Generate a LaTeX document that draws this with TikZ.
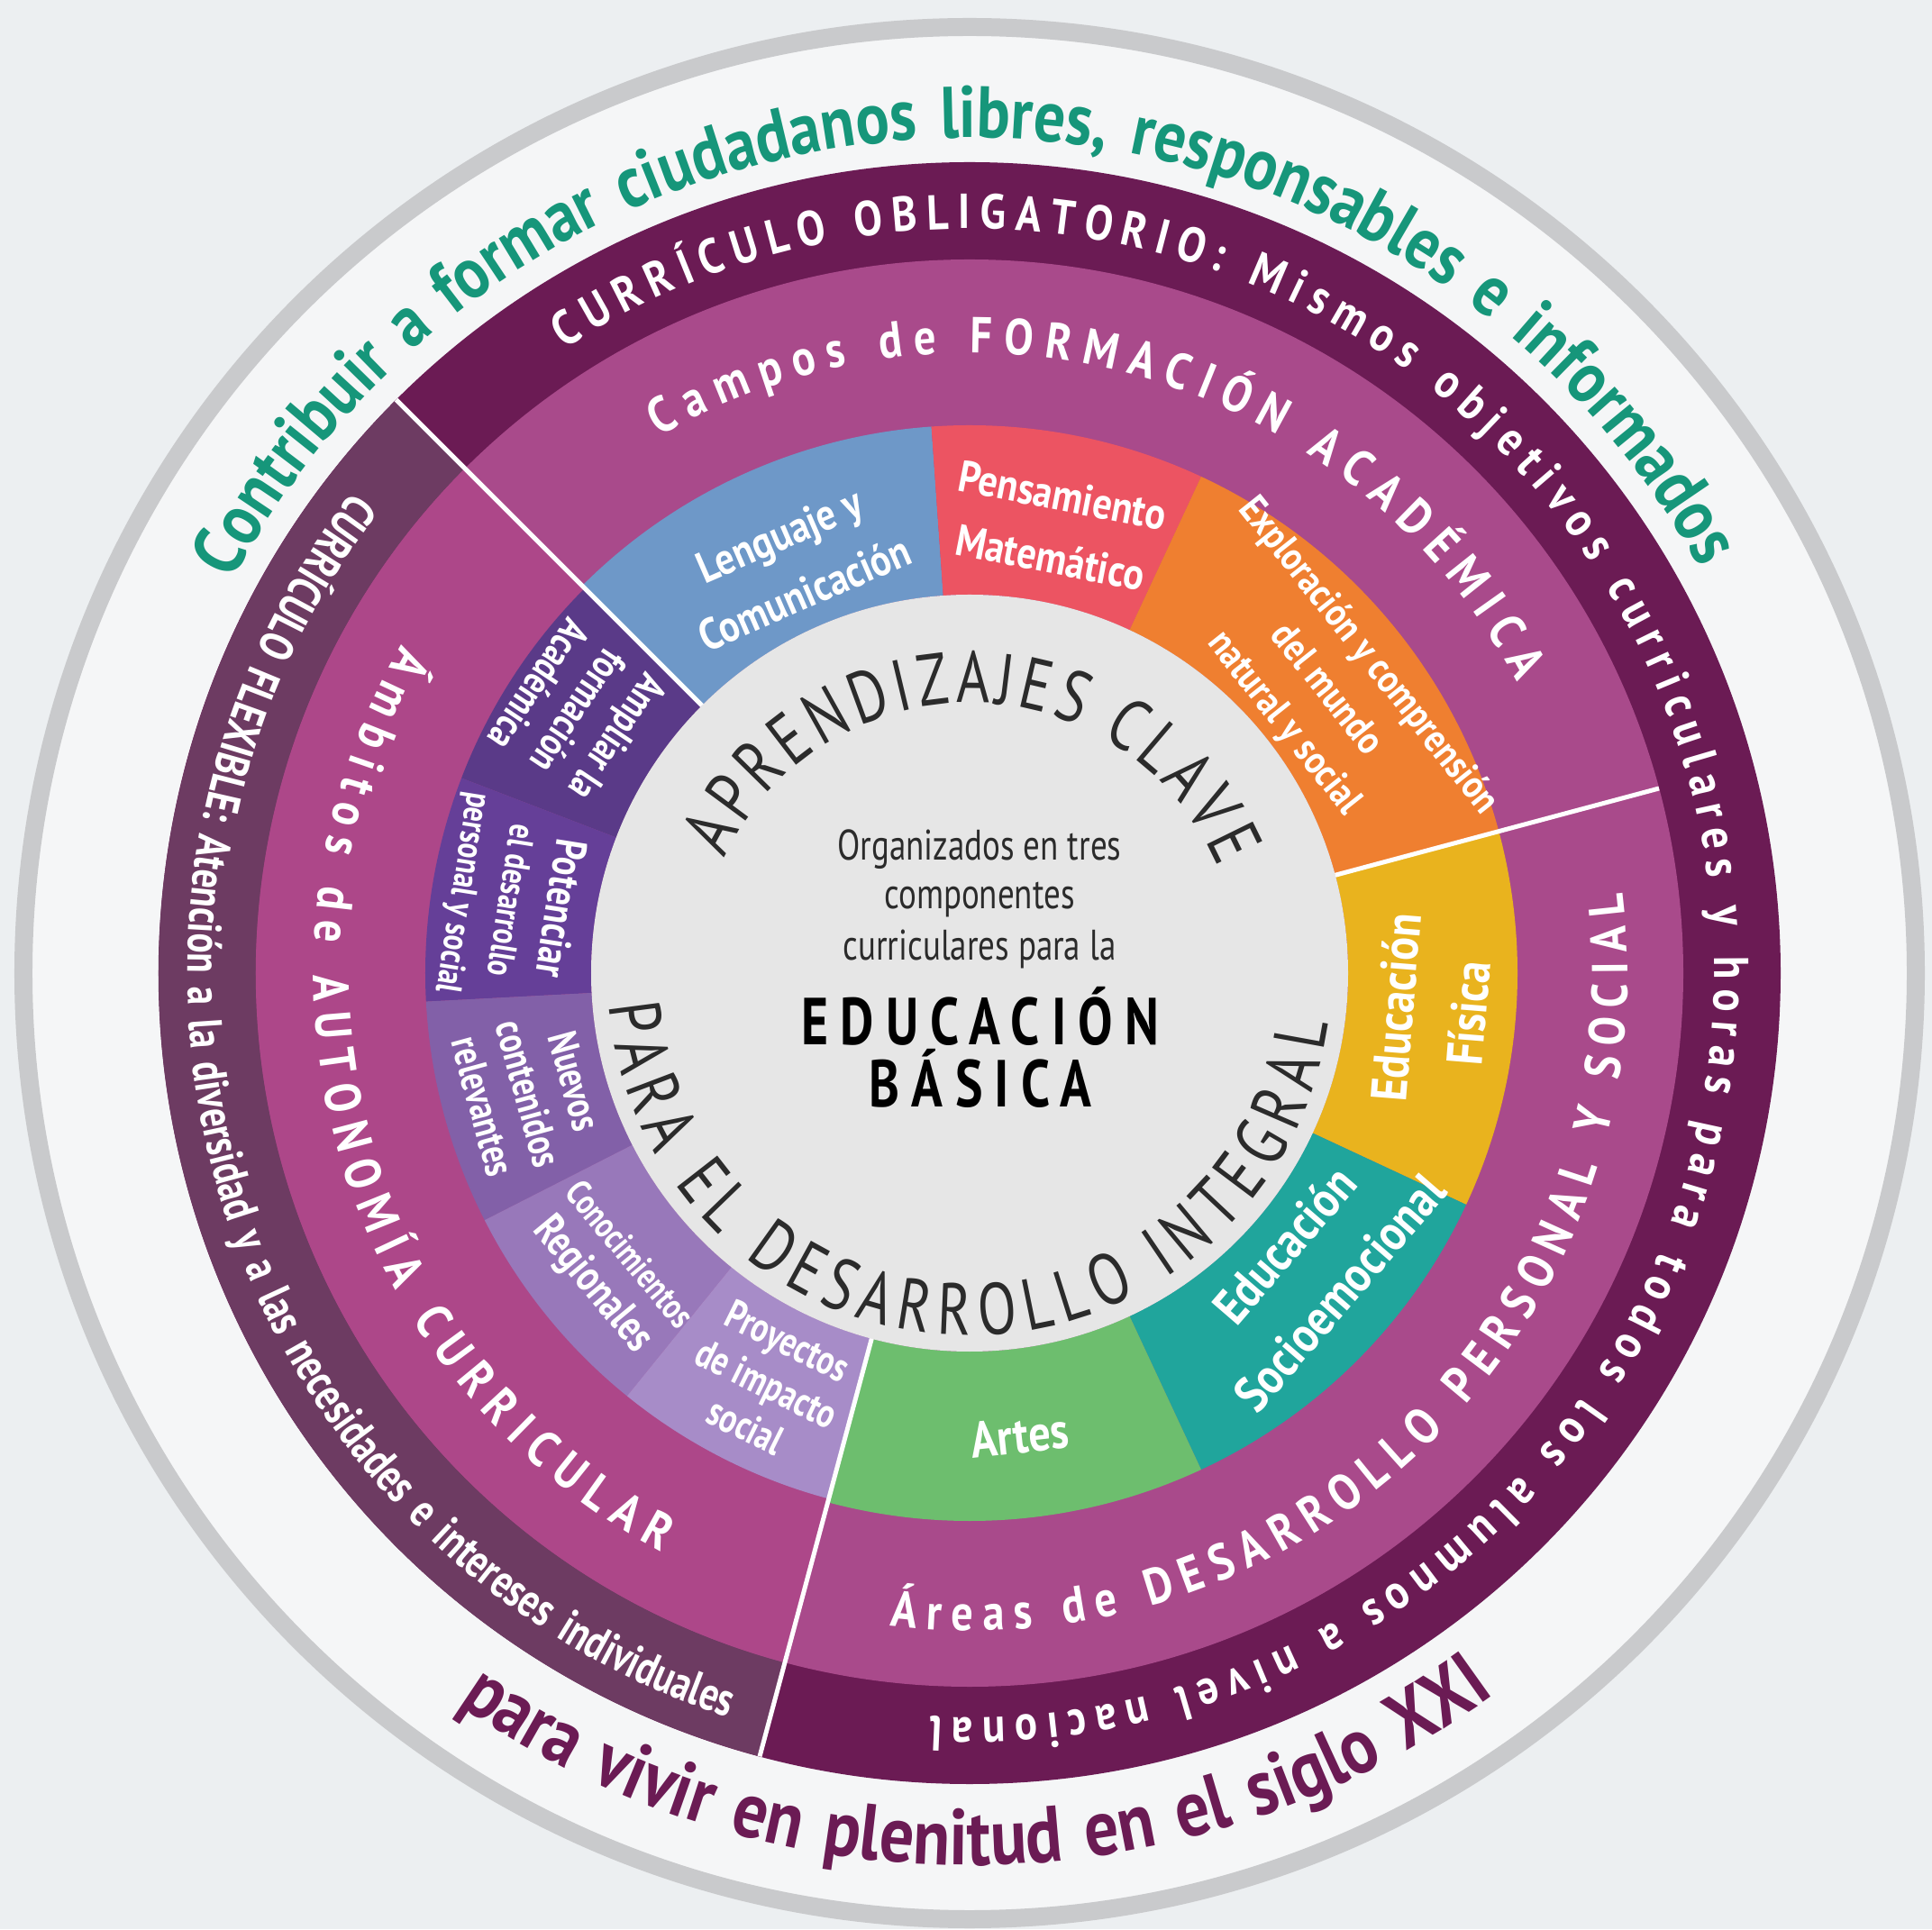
\documentclass[tikz,border=0pt]{standalone}
\usepackage{fontspec}
\setmainfont{PT Sans}
\newfontfamily\condfont[FakeStretch=0.86]{PT Sans}
\newfontfamily\narrowfont[FakeStretch=0.78]{PT Sans}
\usetikzlibrary{decorations.text}

\newlength{\du}
\setlength{\du}{0.1mm}

\definecolor{bgcolor}{rgb}{0.925000, 0.937000, 0.945000}
\definecolor{ringfill}{rgb}{0.961000, 0.965000, 0.969000}
\definecolor{ringline}{rgb}{0.788000, 0.792000, 0.800000}
\definecolor{obligcolor}{rgb}{0.420000, 0.106000, 0.329000}
\definecolor{flexcolor}{rgb}{0.427000, 0.231000, 0.384000}
\definecolor{camposcolor}{rgb}{0.663000, 0.290000, 0.545000}
\definecolor{ambitoscolor}{rgb}{0.678000, 0.278000, 0.537000}
\definecolor{lenguajecolor}{rgb}{0.431000, 0.596000, 0.784000}
\definecolor{pensamientocolor}{rgb}{0.925000, 0.329000, 0.384000}
\definecolor{exploracolor}{rgb}{0.937000, 0.498000, 0.188000}
\definecolor{fisicacolor}{rgb}{0.914000, 0.702000, 0.118000}
\definecolor{socioemocolor}{rgb}{0.125000, 0.647000, 0.612000}
\definecolor{artescolor}{rgb}{0.427000, 0.745000, 0.431000}
\definecolor{ampliarcolor}{rgb}{0.353000, 0.227000, 0.533000}
\definecolor{potenciarcolor}{rgb}{0.396000, 0.247000, 0.596000}
\definecolor{nuevoscolor}{rgb}{0.510000, 0.376000, 0.659000}
\definecolor{conocimcolor}{rgb}{0.596000, 0.471000, 0.729000}
\definecolor{proyectoscolor}{rgb}{0.655000, 0.549000, 0.784000}
\definecolor{innergrey}{rgb}{0.902000, 0.902000, 0.902000}
\definecolor{textgreen}{rgb}{0.086000, 0.588000, 0.478000}
\definecolor{darktext}{rgb}{0.169000, 0.169000, 0.169000}

% one piece of a ring: colour, inner r, outer r, from, to
\newcommand{\ringpart}[5]{%
  \fill[#1] (#4:#2\du) arc[start angle=#4, end angle=#5, radius=#2\du]
    -- (#5:#3\du) arc[start angle=#5, end angle=#4, radius=#3\du] -- cycle;}
% text on an arc: radius, from, to, alignment, format, text
\newcommand{\arctext}[6]{%
  \path[decorate, decoration={text along path, text align={#4}, text={|#5|#6}}]
    (#2:#1\du) arc[start angle=#2, end angle=#3, radius=#1\du];}

\newcommand{\greenfont}{\condfont\bfseries\fontsize{23pt}{27pt}\selectfont\color{textgreen}}
\newcommand{\plumfont}{\condfont\bfseries\fontsize{25pt}{29pt}\selectfont\color{obligcolor}}
\newcommand{\bandfont}{\condfont\bfseries\fontsize{15.5pt}{18pt}\selectfont\color{white}}
\newcommand{\flexfont}{\narrowfont\bfseries\fontsize{15pt}{18pt}\selectfont\color{white}}
\newcommand{\ringfont}{\condfont\bfseries\fontsize{16pt}{19pt}\selectfont\color{white}}
\newcommand{\innerfont}{\narrowfont\fontsize{23pt}{27pt}\selectfont\color{darktext}}

\tikzset{
  seglabel/.style={text=white, align=center, inner sep=0pt,
    font=\condfont\bfseries\fontsize{14pt}{20pt}\selectfont},
  biglabel/.style={seglabel, font=\condfont\bfseries\fontsize{16pt}{23pt}\selectfont},
  purplelabel/.style={text=white, align=center, inner sep=0pt,
    font=\narrowfont\bfseries\fontsize{13pt}{15pt}\selectfont},
  midtext/.style={text=darktext, inner sep=0pt, font=\narrowfont\fontsize{13.5pt}{16pt}\selectfont},
  bigtext/.style={text=black, inner sep=0pt,
    font=\narrowfont\bfseries\fontsize{21pt}{25pt}\selectfont\addfontfeature{LetterSpace=18}},
  divider/.style={white, line width=5\du},
}

\begin{document}
\begin{tikzpicture}
\useasboundingbox (-1076\du,-1061\du) rectangle (1068\du,1080\du);
\fill[bgcolor] (-1076\du,-1061\du) rectangle (1068\du,1080\du);

% outer ring
\fill[ringfill] (0,0) circle[radius=1045\du];
\draw[ringline, line width=20\du] (0,0) circle[radius=1050\du];

% curriculo bands
\fill[obligcolor] (0,0) circle[radius=900\du];
\ringpart{flexcolor}{792}{900}{135}{255}
\fill[camposcolor] (0,0) circle[radius=792\du];
\ringpart{ambitoscolor}{600}{792}{135}{255}

% campos de formacion
\ringpart{lenguajecolor}{420}{608}{94}{135}
\ringpart{pensamientocolor}{420}{608}{65}{94}
\ringpart{exploracolor}{420}{608}{15}{65}
% areas de desarrollo
\ringpart{fisicacolor}{420}{608}{-25}{15}
\ringpart{socioemocolor}{420}{608}{-65}{-25}
\ringpart{artescolor}{420}{608}{-105}{-65}
% ambitos de autonomia
\ringpart{ampliarcolor}{420}{604}{135}{159}
\ringpart{potenciarcolor}{420}{604}{159}{183}
\ringpart{nuevoscolor}{420}{604}{183}{207}
\ringpart{conocimcolor}{420}{604}{207}{231}
\ringpart{proyectoscolor}{420}{604}{231}{255}

\fill[innergrey] (0,0) circle[radius=420\du];

% white dividers
\draw[divider] (135:420\du) -- (135:900\du);
\draw[divider] (255:420\du) -- (255:900\du);
\draw[divider] (15:420\du) -- (15:792\du);

% texts on arcs
\arctext{927}{152}{29}{fit to path stretching spaces}{\greenfont}{Contribuir a formar ciudadanos libres, responsables e informados}
\arctext{990}{235}{306}{fit to path stretching spaces}{\plumfont}{para vivir en plenitud en el siglo XXI}
\arctext{826}{123}{-93}{fit to path}{\bandfont}{CURRÍCULO OBLIGATORIO: Mismos objetivos curriculares y horas para todos los alumnos a nivel nacional}
\arctext{868}{142}{252}{fit to path stretching spaces}{\flexfont}{CURRÍCULO FLEXIBLE: Atención a la diversidad y a las necesidades e intereses individuales}
\arctext{688}{120}{28}{fit to path}{\ringfont}{Campos de FORMACIÓN ACADÉMICA}
\arctext{728}{150}{242}{fit to path}{\ringfont}{Ámbitos de AUTONOMÍA CURRICULAR}
\arctext{730}{263}{367}{fit to path}{\ringfont}{Áreas de DESARROLLO PERSONAL Y SOCIAL}
\arctext{300}{155}{23}{fit to path}{\innerfont}{APRENDIZAJES CLAVE}
\arctext{402}{185}{352}{fit to path}{\innerfont}{PARA EL DESARROLLO INTEGRAL}

% centre
\node[midtext] (org) at (11\du,137\du) {Organizados en tres};
\node[midtext] (comp) at (11\du,82\du) {componentes};
\node[midtext] (curr) at (11\du,27\du) {curriculares para la};
\node[bigtext] (edu) at (12\du,-48\du) {EDUCACIÓN};
\node[bigtext] (bas) at (12\du,-117\du) {BÁSICA};

% segment labels
\node[seglabel, rotate=23.5] (lenguaje) at (113.5:495\du) {Lenguaje y\\Comunicación};
\node[seglabel, rotate=-11] (pensamiento) at (79:505\du) {Pensamiento\\Matemático};
\node[seglabel, font=\condfont\bfseries\fontsize{12.5pt}{17pt}\selectfont, rotate=-51.5] (explora) at (38.5:505\du) {Exploración y comprensión\\del mundo\\natural y social};
\node[biglabel, rotate=85.4] (fisica) at (-4.6:515\du) {Educación\\Física};
\node[biglabel, rotate=49.2] (socioemo) at (-40.8:502\du) {Educación\\Socioemocional};
\node[biglabel, rotate=6.2] (artes) at (-83.8:516\du) {Artes};

\node[purplelabel, rotate=236.2] (ampliar) at (146.2:522\du) {Ampliar la\\formación\\Académica};
\node[purplelabel, rotate=261] (potenciar) at (171:515\du) {{\fontsize{14pt}{16pt}\selectfont Potenciar}\\{\fontsize{11.5pt}{14pt}\selectfont el desarrollo}\\{\fontsize{11.5pt}{14pt}\selectfont personal y social}};
\node[purplelabel, rotate=285.3] (nuevos) at (195.3:507\du) {Nuevos\\contenidos\\relevantes};
\node[purplelabel, rotate=309.6] (conocim) at (219.6:520\du) {{\fontsize{11.5pt}{14pt}\selectfont Conocimientos}\\{\fontsize{14pt}{16pt}\selectfont Regionales}};
\node[purplelabel, rotate=333.7] (proyectos) at (243.7:508\du) {Proyectos\\de impacto\\social};
\end{tikzpicture}
\end{document}
